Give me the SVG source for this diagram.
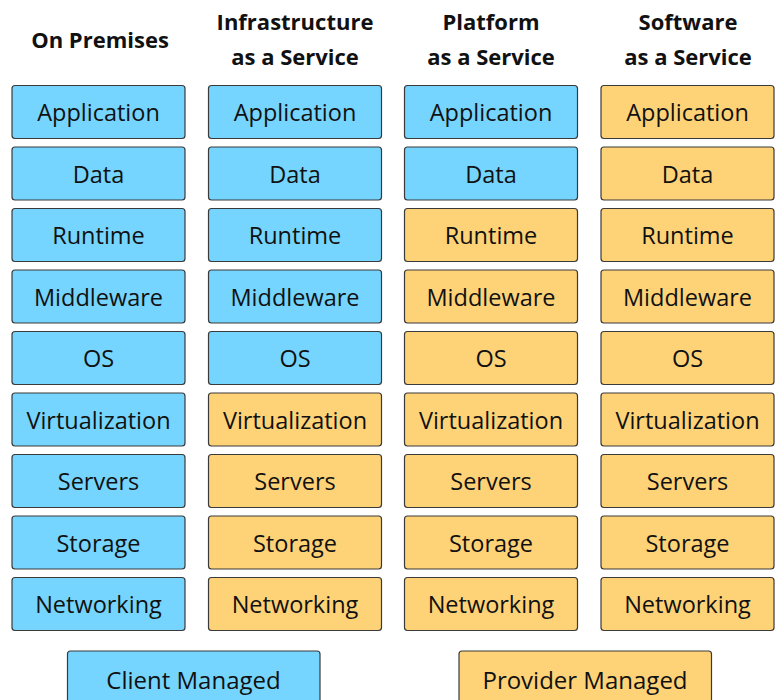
<svg xmlns="http://www.w3.org/2000/svg" width="779" height="700" viewBox="0 0 779 700">
<style>
.b{stroke:#3a3a3a;stroke-width:1.2}
.c{fill:#75d5fe}
.p{fill:#fed378}
text{font-family:"Open Sans","Liberation Sans",sans-serif;fill:#111;text-anchor:middle}
.t{font-size:23.5px}
.l{font-size:24px}
.h{font-size:22px;font-weight:bold}
</style>
<rect width="779" height="700" fill="#fff"/>
<g id="headers">
<text class="h" x="100" y="48">On Premises</text>
<text class="h" x="295" y="30">Infrastructure</text>
<text class="h" x="295" y="65">as a Service</text>
<text class="h" x="491" y="30">Platform</text>
<text class="h" x="491" y="65">as a Service</text>
<text class="h" x="688" y="30">Software</text>
<text class="h" x="688" y="65">as a Service</text>
</g>
<g id="onprem">
<g id="op-app"><rect class="b c" x="12" y="85.5" width="173" height="53" rx="3"/><text class="t" x="98.5" y="121">Application</text></g>
<g id="op-data"><rect class="b c" x="12" y="147" width="173" height="53" rx="3"/><text class="t" x="98.5" y="182.5">Data</text></g>
<g id="op-runtime"><rect class="b c" x="12" y="208.5" width="173" height="53" rx="3"/><text class="t" x="98.5" y="244">Runtime</text></g>
<g id="op-mid"><rect class="b c" x="12" y="270" width="173" height="53" rx="3"/><text class="t" x="98.5" y="305.5">Middleware</text></g>
<g id="op-os"><rect class="b c" x="12" y="331.5" width="173" height="53" rx="3"/><text class="t" x="98.5" y="367">OS</text></g>
<g id="op-virt"><rect class="b c" x="12" y="393" width="173" height="53" rx="3"/><text class="t" x="98.5" y="428.5">Virtualization</text></g>
<g id="op-srv"><rect class="b c" x="12" y="454.5" width="173" height="53" rx="3"/><text class="t" x="98.5" y="490">Servers</text></g>
<g id="op-sto"><rect class="b c" x="12" y="516" width="173" height="53" rx="3"/><text class="t" x="98.5" y="551.5">Storage</text></g>
<g id="op-net"><rect class="b c" x="12" y="577.5" width="173" height="53" rx="3"/><text class="t" x="98.5" y="613">Networking</text></g>
</g>
<g id="iaas">
<g id="ia-app"><rect class="b c" x="208.5" y="85.5" width="173" height="53" rx="3"/><text class="t" x="295" y="121">Application</text></g>
<g id="ia-data"><rect class="b c" x="208.5" y="147" width="173" height="53" rx="3"/><text class="t" x="295" y="182.5">Data</text></g>
<g id="ia-runtime"><rect class="b c" x="208.5" y="208.5" width="173" height="53" rx="3"/><text class="t" x="295" y="244">Runtime</text></g>
<g id="ia-mid"><rect class="b c" x="208.5" y="270" width="173" height="53" rx="3"/><text class="t" x="295" y="305.5">Middleware</text></g>
<g id="ia-os"><rect class="b c" x="208.5" y="331.5" width="173" height="53" rx="3"/><text class="t" x="295" y="367">OS</text></g>
<g id="ia-virt"><rect class="b p" x="208.5" y="393" width="173" height="53" rx="3"/><text class="t" x="295" y="428.5">Virtualization</text></g>
<g id="ia-srv"><rect class="b p" x="208.5" y="454.5" width="173" height="53" rx="3"/><text class="t" x="295" y="490">Servers</text></g>
<g id="ia-sto"><rect class="b p" x="208.5" y="516" width="173" height="53" rx="3"/><text class="t" x="295" y="551.5">Storage</text></g>
<g id="ia-net"><rect class="b p" x="208.5" y="577.5" width="173" height="53" rx="3"/><text class="t" x="295" y="613">Networking</text></g>
</g>
<g id="paas">
<g id="pa-app"><rect class="b c" x="404.5" y="85.5" width="173" height="53" rx="3"/><text class="t" x="491" y="121">Application</text></g>
<g id="pa-data"><rect class="b c" x="404.5" y="147" width="173" height="53" rx="3"/><text class="t" x="491" y="182.5">Data</text></g>
<g id="pa-runtime"><rect class="b p" x="404.5" y="208.5" width="173" height="53" rx="3"/><text class="t" x="491" y="244">Runtime</text></g>
<g id="pa-mid"><rect class="b p" x="404.5" y="270" width="173" height="53" rx="3"/><text class="t" x="491" y="305.5">Middleware</text></g>
<g id="pa-os"><rect class="b p" x="404.5" y="331.5" width="173" height="53" rx="3"/><text class="t" x="491" y="367">OS</text></g>
<g id="pa-virt"><rect class="b p" x="404.5" y="393" width="173" height="53" rx="3"/><text class="t" x="491" y="428.5">Virtualization</text></g>
<g id="pa-srv"><rect class="b p" x="404.5" y="454.5" width="173" height="53" rx="3"/><text class="t" x="491" y="490">Servers</text></g>
<g id="pa-sto"><rect class="b p" x="404.5" y="516" width="173" height="53" rx="3"/><text class="t" x="491" y="551.5">Storage</text></g>
<g id="pa-net"><rect class="b p" x="404.5" y="577.5" width="173" height="53" rx="3"/><text class="t" x="491" y="613">Networking</text></g>
</g>
<g id="saas">
<g id="sa-app"><rect class="b p" x="601" y="85.5" width="173" height="53" rx="3"/><text class="t" x="687.5" y="121">Application</text></g>
<g id="sa-data"><rect class="b p" x="601" y="147" width="173" height="53" rx="3"/><text class="t" x="687.5" y="182.5">Data</text></g>
<g id="sa-runtime"><rect class="b p" x="601" y="208.5" width="173" height="53" rx="3"/><text class="t" x="687.5" y="244">Runtime</text></g>
<g id="sa-mid"><rect class="b p" x="601" y="270" width="173" height="53" rx="3"/><text class="t" x="687.5" y="305.5">Middleware</text></g>
<g id="sa-os"><rect class="b p" x="601" y="331.5" width="173" height="53" rx="3"/><text class="t" x="687.5" y="367">OS</text></g>
<g id="sa-virt"><rect class="b p" x="601" y="393" width="173" height="53" rx="3"/><text class="t" x="687.5" y="428.5">Virtualization</text></g>
<g id="sa-srv"><rect class="b p" x="601" y="454.5" width="173" height="53" rx="3"/><text class="t" x="687.5" y="490">Servers</text></g>
<g id="sa-sto"><rect class="b p" x="601" y="516" width="173" height="53" rx="3"/><text class="t" x="687.5" y="551.5">Storage</text></g>
<g id="sa-net"><rect class="b p" x="601" y="577.5" width="173" height="53" rx="3"/><text class="t" x="687.5" y="613">Networking</text></g>
</g>
<g id="legend-client"><rect class="b c" x="67.5" y="651" width="252.5" height="60" rx="3"/><text class="l" x="193.5" y="688.5">Client Managed</text></g>
<g id="legend-provider"><rect class="b p" x="459" y="651" width="252.5" height="60" rx="3"/><text class="l" x="585" y="688.5">Provider Managed</text></g>
<g id="connectors"/>
</svg>
